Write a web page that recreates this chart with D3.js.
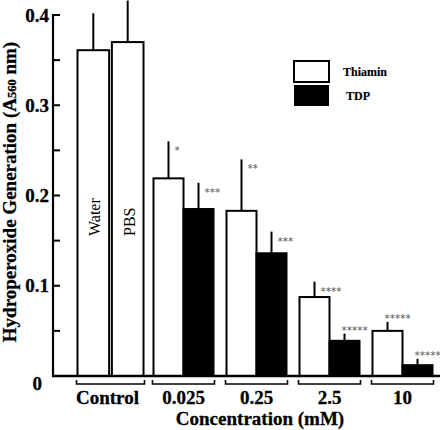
<!DOCTYPE html>
<html><head><meta charset="utf-8">
<script src="https://cdn.jsdelivr.net/npm/d3@7"></script>
<style>body{margin:0;background:#fff}svg{display:block}
.sf{font-family:"Liberation Serif","Times New Roman",serif}
.bd{font-family:"Liberation Serif","Times New Roman",serif;font-weight:bold;stroke:#000;stroke-width:0.3px;stroke-linejoin:round}</style>
</head><body>
<script>
const groups = ["Control","0.025","0.25","2.5","10"];
const controlLabels = ["Water","PBS"];
const controlValues = [0.361, 0.370];
const controlErrors = [0.041, 0.046];
const thiaminValues = [0.219, 0.183, 0.0875, 0.050];
const thiaminErrors = [0.041, 0.057, 0.017, 0.010];
const tdpValues = [0.185, 0.136, 0.039, 0.012];
const tdpErrors = [0.029, 0.024, 0.008, 0.007];
const thiaminStars = ["*","**","****","*****"];
const tdpStars = ["***","***","*****","*****"];
const yTicks = [0, 0.1, 0.2, 0.3, 0.4];
const yMinorTicks = [0.05, 0.15, 0.25, 0.35];
const seriesNames = ["Thiamin","TDP"];

const W = 440, H = 430;
const svg = d3.select("body").append("svg").attr("width", W).attr("height", H);

const y = d3.scaleLinear().domain([0, 0.4]).range([376, 15]);
const x = d3.scaleBand().domain(groups).range([74, 439]).padding(0);
const center = g => x(g) + x.bandwidth() / 2;
const inner = d3.scaleBand().domain([0, 1]).range([-30, 30]).padding(0);
const innerCtl = d3.scaleBand().domain([0, 1]).range([-33, 33]).paddingInner(0.08);

const bars = [];
controlValues.forEach((v, i) => bars.push({g: "Control", i, v, e: controlErrors[i], fill: "#fff", sc: innerCtl, stars: null, label: controlLabels[i]}));
thiaminValues.forEach((v, k) => bars.push({g: groups[k+1], i: 0, v, e: thiaminErrors[k], fill: "#fff", sc: inner, stars: thiaminStars[k]}));
tdpValues.forEach((v, k) => bars.push({g: groups[k+1], i: 1, v, e: tdpErrors[k], fill: "#000", sc: inner, stars: tdpStars[k]}));

bars.forEach(b => {
  b.x0 = center(b.g) + b.sc(b.i);
  b.w = b.sc.bandwidth();
  b.cx = b.x0 + b.w / 2;
});

svg.append("g").selectAll("line").data(bars).join("line")
  .attr("x1", d => d.cx).attr("x2", d => d.cx)
  .attr("y1", d => y(d.v)).attr("y2", d => y(d.v + d.e))
  .attr("stroke", "#000").attr("stroke-width", 2);

svg.append("g").selectAll("rect").data(bars).join("rect")
  .attr("x", d => d.x0).attr("width", d => d.w)
  .attr("y", d => y(d.v)).attr("height", d => y(0) - y(d.v))
  .attr("fill", d => d.fill).attr("stroke", "#000").attr("stroke-width", 2);

// significance stars
svg.append("g").selectAll("text").data(bars.filter(d => d.stars)).join("text")
  .attr("x", d => d.stars.length >= 5 ? d.cx - 3 : d.cx + 6)
  .attr("y", d => d.stars.length >= 5 ? y(d.v + d.e) : y(d.v + d.e) + 13)
  .attr("font-family", "'DejaVu Sans',sans-serif").attr("font-size", 10.5)
  .attr("fill", "#555").text(d => d.stars);

// control labels
svg.append("g").selectAll("text").data(bars.filter(d => d.label)).join("text")
  .attr("class", "sf")
  .attr("transform", d => `translate(${d.cx + 7},236) rotate(-90)`)
  .attr("font-size", 16).attr("fill", "#000")
  .text(d => d.label);

// axes
svg.append("line").attr("x1", 53).attr("x2", 53).attr("y1", y(0.4) - 1).attr("y2", y(0) + 1)
  .attr("stroke", "#000").attr("stroke-width", 2.2);
svg.append("line").attr("x1", 52).attr("x2", 440).attr("y1", y(0)).attr("y2", y(0))
  .attr("stroke", "#000").attr("stroke-width", 2.5);
svg.append("g").selectAll("line").data(yTicks.filter(t => t > 0).concat(yMinorTicks)).join("line")
  .attr("x1", 53).attr("x2", 60).attr("y1", d => y(d)).attr("y2", d => y(d))
  .attr("stroke", "#000").attr("stroke-width", 2);
svg.append("g").selectAll("text").data(yTicks).join("text")
  .attr("class", "bd")
  .attr("x", d => d === 0 ? 42 : 49).attr("y", d => d === 0 ? y(d) + 7 : y(d))
  .attr("dy", "0.35em").attr("text-anchor", "end")
  .attr("font-size", 19)
  .text(d => d === 0 ? "0" : d3.format(".1f")(d));

// brackets
svg.append("g").selectAll("path").data(groups).join("path")
  .attr("d", g => {
    const h = g === "Control" ? 34 : 31;
    const c = center(g);
    return `M${c - h},380 V384 H${c + h} V380`;
  })
  .attr("fill", "none").attr("stroke", "#000").attr("stroke-width", 1.6);

svg.append("g").selectAll("text").data(groups).join("text")
  .attr("class", "bd")
  .attr("x", g => center(g) + (g === "Control" ? -3 : 0)).attr("y", 404)
  .attr("text-anchor", "middle")
  .attr("font-size", 19)
  .text(g => g);

svg.append("text").attr("class", "bd").attr("x", 260).attr("y", 425).attr("text-anchor", "middle")
  .attr("font-size", 19)
  .text("Concentration (mM)");

const yl = svg.append("text").attr("class", "bd").attr("transform", "translate(16,192) rotate(-90)")
  .attr("text-anchor", "middle")
  .attr("font-size", 19);
yl.append("tspan").text("Hydroperoxide Generation (A");
yl.append("tspan").attr("font-size", 12.5).text("560");
yl.append("tspan").text(" nm)");

const leg = svg.append("g");
seriesNames.forEach((s, i) => {
  leg.append("rect").attr("x", 294).attr("y", 61 + i * 24).attr("width", 35).attr("height", 21)
    .attr("fill", i ? "#000" : "#fff").attr("stroke", "#000").attr("stroke-width", i ? 0 : 2);
  leg.append("text").attr("class", "bd").style("stroke-width", "0.15px").attr("x", i ? 346 : 343).attr("y", 76 + i * 24)
    .attr("font-size", 12)
    .text(s);
});
</script>
</body></html>
